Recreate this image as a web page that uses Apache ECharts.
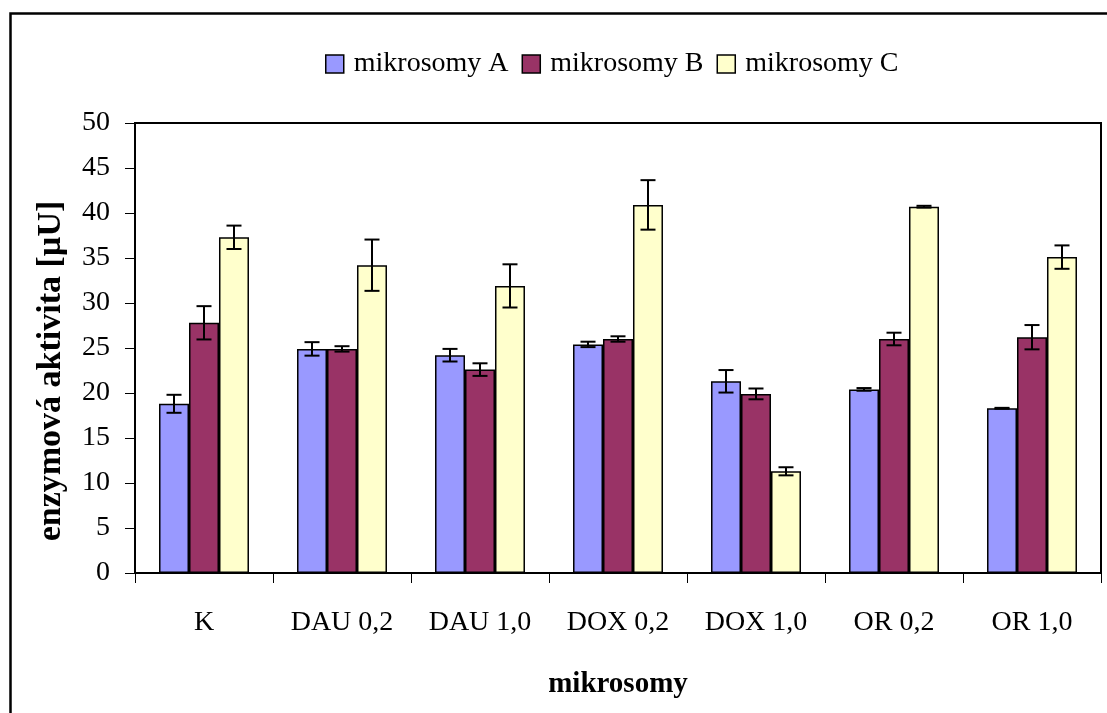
<!DOCTYPE html>
<html>
<head>
<meta charset="utf-8">
<script src="https://cdn.jsdelivr.net/npm/echarts@6/dist/echarts.min.js"></script>
<style>
  html, body { margin: 0; padding: 0; background: #fff; }
  #chart { width: 1107px; height: 713px; }
</style>
</head>
<body>
<div id="chart"></div>
<script>
// Enzyme activity of three microsome preparations per treatment
const categories = ['K', 'DAU 0,2', 'DAU 1,0', 'DOX 0,2', 'DOX 1,0', 'OR 0,2', 'OR 1,0'];
const seriesNames = ['mikrosomy A', 'mikrosomy B', 'mikrosomy C'];

const valuesA = [18.8, 24.9, 24.2, 25.4, 21.3, 20.4, 18.3];
const valuesB = [27.8, 24.9, 22.6, 26.0, 19.9, 26.0, 26.2];
const valuesC = [37.3, 34.2, 31.9, 40.9, 11.3, 40.7, 35.1];

// standard deviations (error bar half-lengths)
const errA = [1.0, 0.75, 0.7, 0.3, 1.25, 0.15, 0.05];
const errB = [1.85, 0.3, 0.7, 0.3, 0.6, 0.7, 1.35];
const errC = [1.3, 2.85, 2.4, 2.75, 0.45, 0.1, 1.3];

const yTicks = { min: 0, max: 50, interval: 5 };
const yTitle = 'enzymová aktivita [µU]';
const xTitle = 'mikrosomy';

const colors = ['#9999FF', '#993366', '#FFFFCC'];
const values = [valuesA, valuesB, valuesC];
const errors = [errA, errB, errC];

const FONT = '"Liberation Serif", "Times New Roman", serif';
const CATEGORY_GAP = 0.348; // fraction of the category band left empty

const chart = echarts.init(document.getElementById('chart'), null, { renderer: 'canvas' });

const barSeries = values.map((vals, i) => ({
  name: seriesNames[i],
  type: 'bar',
  data: vals,
  barGap: '0%',
  barCategoryGap: (CATEGORY_GAP * 100) + '%',
  itemStyle: { color: colors[i], borderColor: '#000', borderWidth: 1.5 },
  z: 2
}));

const errorSeries = errors.map((errs, i) => ({
  type: 'custom',
  name: seriesNames[i] + ' err',
  data: values[i].map((v, k) => [k, v, errs[k]]),
  encode: { x: 0, y: 1 },
  z: 5,
  silent: true,
  renderItem: function (params, api) {
    const k = api.value(0);
    const v = api.value(1);
    const e = api.value(2);
    const band = api.size([1, 0])[0];
    const barW = band * (1 - CATEGORY_GAP) / 3;
    const center = api.coord([k, v]);
    const x = center[0] + (i - 1) * barW;
    const hi = api.coord([k, v + e])[1];
    const lo = api.coord([k, v - e])[1];
    const cap = 7.5;
    const style = { stroke: '#000', lineWidth: 2 };
    return {
      type: 'group',
      children: [
        { type: 'line', shape: { x1: x, y1: hi, x2: x, y2: lo }, style },
        { type: 'line', shape: { x1: x - cap, y1: hi, x2: x + cap, y2: hi }, style },
        { type: 'line', shape: { x1: x - cap, y1: lo, x2: x + cap, y2: lo }, style }
      ]
    };
  }
}));

chart.setOption({
  animation: false,
  backgroundColor: '#fff',
  textStyle: { fontFamily: FONT, color: '#000' },
  graphic: [
    {
      // outer chart frame
      type: 'rect',
      left: 8, top: 11,
      shape: { width: 1120, height: 730 },
      style: { fill: 'none', stroke: '#000', lineWidth: 2.5 },
      silent: true,
      z: 0
    },
    {
      // vertical axis title
      type: 'text',
      x: 51, y: 371,
      rotation: Math.PI / 2,
      style: {
        text: yTitle,
        fontFamily: FONT,
        fontSize: 34,
        fontWeight: 'bold',
        fill: '#000',
        align: 'center',
        verticalAlign: 'middle'
      },
      silent: true,
      z: 10
    }
  ],
  legend: {
    data: seriesNames,
    left: 320,
    top: 45,
    itemWidth: 18,
    itemHeight: 18,
    itemGap: 13,
    icon: 'rect',
    itemStyle: { borderColor: '#000', borderWidth: 1.5 },
    textStyle: { fontFamily: FONT, fontSize: 28, color: '#000', padding: [0, 0, 0, 5] }
  },
  grid: {
    left: 135, top: 123, right: 6, bottom: 140,
    show: true,
    borderColor: '#000',
    borderWidth: 2,
    backgroundColor: '#fff'
  },
  xAxis: {
    type: 'category',
    data: categories,
    name: xTitle,
    nameLocation: 'middle',
    nameGap: 97,
    nameTextStyle: { fontFamily: FONT, fontSize: 29, fontWeight: 'bold', color: '#000' },
    axisLine: { show: true, lineStyle: { color: '#000', width: 2 } },
    axisTick: { show: true, alignWithLabel: false, length: 10, lineStyle: { color: '#000', width: 1 } },
    axisLabel: { fontFamily: FONT, fontSize: 28, color: '#000', margin: 36 }
  },
  yAxis: {
    type: 'value',
    min: yTicks.min,
    max: yTicks.max,
    interval: yTicks.interval,
    axisLine: { show: true, lineStyle: { color: '#000', width: 2 } },
    axisTick: { show: true, inside: false, length: 10, lineStyle: { color: '#000', width: 1 } },
    axisLabel: { fontFamily: FONT, fontSize: 28, color: '#000', margin: 25 },
    splitLine: { show: false }
  },
  series: barSeries.concat(errorSeries)
});
</script>
</body>
</html>
